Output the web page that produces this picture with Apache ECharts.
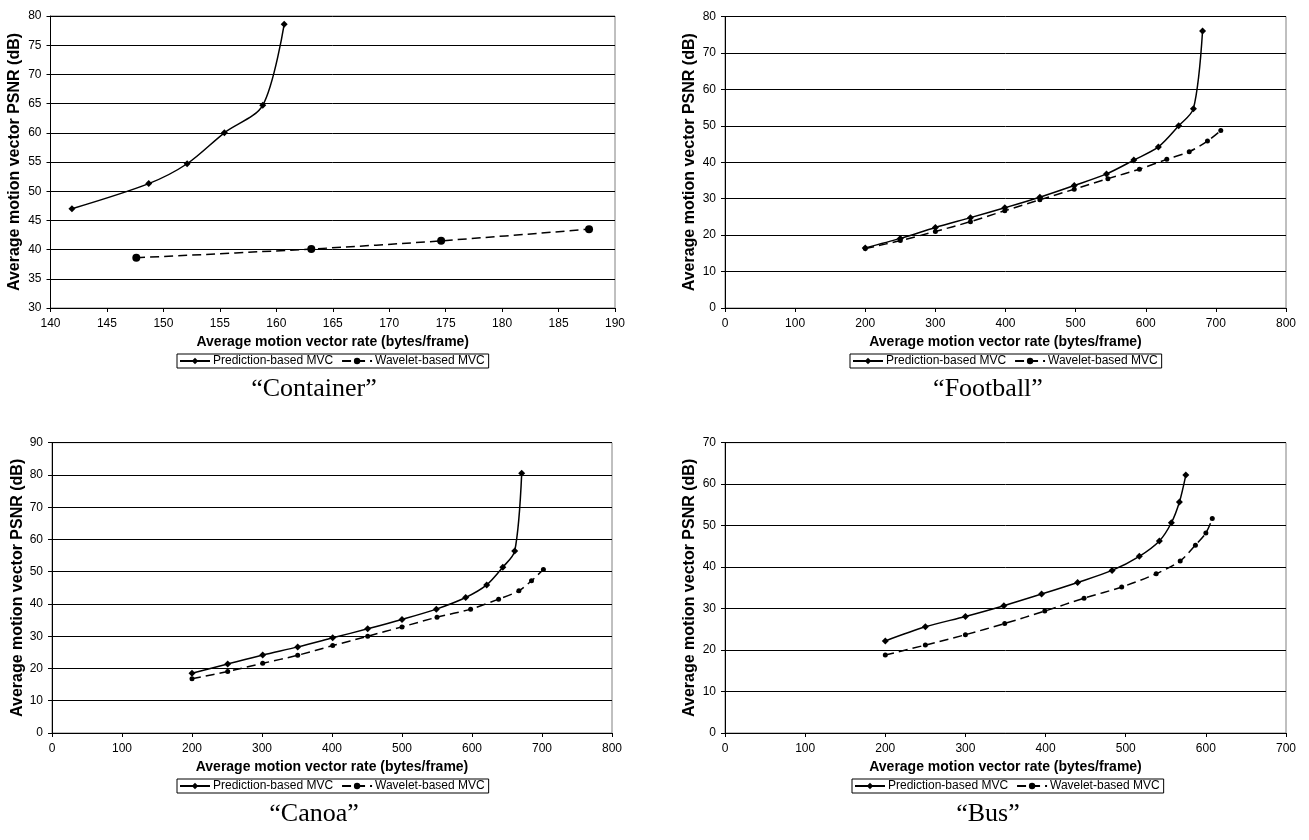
<!DOCTYPE html>
<html>
<head>
<meta charset="utf-8">
<script src="https://cdn.jsdelivr.net/npm/echarts@6/dist/echarts.min.js"></script>
<style>
html,body{margin:0;padding:0;background:#fff}
#main{width:1309px;height:840px}
</style>
</head>
<body>
<div id="main"></div>
<script>
// "Container"
var containerPredRate = [141.9, 148.7, 152.1, 155.4, 158.8, 160.7];
var containerPredPsnr = [47.0, 51.3, 54.7, 60.0, 64.7, 78.6];
var containerWaveRate = [147.6, 163.1, 174.6, 187.7];
var containerWavePsnr = [38.6, 40.1, 41.5, 43.5];
// "Football"
var footballPredRate = [200, 250, 300, 350, 399, 449, 498, 544, 583, 618, 647, 668, 681];
var footballPredPsnr = [16.5, 19.1, 22.1, 24.8, 27.5, 30.4, 33.6, 36.8, 40.6, 44.2, 50.0, 54.7, 76.0];
var footballWaveRate = [200, 250, 300, 350, 399, 449, 498, 546, 591, 630, 662, 688, 707];
var footballWavePsnr = [16.3, 18.5, 21.0, 23.7, 26.7, 29.7, 32.6, 35.5, 38.1, 40.8, 42.9, 45.8, 48.7];
// "Canoa"
var canoaPredRate = [200, 251, 301, 351, 401, 451, 500, 549, 591, 621, 644, 661, 671];
var canoaPredPsnr = [18.5, 21.4, 24.2, 26.7, 29.5, 32.3, 35.2, 38.4, 42.0, 45.9, 51.4, 56.4, 80.5];
var canoaWaveRate = [200, 251, 301, 351, 401, 451, 500, 550, 598, 638, 667, 685, 702];
var canoaWavePsnr = [16.8, 19.1, 21.6, 24.1, 27.1, 30.0, 32.9, 35.9, 38.4, 41.5, 44.1, 47.2, 50.7];
// "Bus"
var busPredRate = [200, 250, 300, 348, 395, 440, 483, 517, 542, 557, 567, 575];
var busPredPsnr = [22.2, 25.6, 28.1, 30.7, 33.5, 36.3, 39.2, 42.6, 46.3, 50.7, 55.7, 62.2];
var busWaveRate = [200, 250, 300, 349, 399, 448, 495, 538, 568, 587, 600, 608];
var busWavePsnr = [18.8, 21.2, 23.7, 26.4, 29.4, 32.5, 35.2, 38.4, 41.5, 45.3, 48.2, 51.7];

var captions = ['\u201cContainer\u201d', '\u201cFootball\u201d', '\u201cCanoa\u201d', '\u201cBus\u201d'];
var xRanges = [[140, 190, 5], [0, 800, 100], [0, 800, 100], [0, 700, 100]];
var yRanges = [[30, 80, 5], [0, 80, 10], [0, 90, 10], [0, 70, 10]];

var PRED = 'Prediction-based MVC';
var WAVE = 'Wavelet-based MVC';
var sans = 'Liberation Sans';

function zip(xs, ys) {
    var out = [];
    for (var i = 0; i < xs.length; i++) out.push([xs[i], ys[i]]);
    return out;
}

var panels = [
    {grid: {left: 50.5, right: 694, top: 16, bottom: 532}, nameGap: 28, legendLeft: 177, legendTop: 354, capX: 314, capY: 389,
     pred: zip(containerPredRate, containerPredPsnr), wave: zip(containerWaveRate, containerWavePsnr), waveSize: 8},
    {grid: {left: 725, right: 23, top: 16.5, bottom: 532}, nameGap: 27, legendLeft: 850, legendTop: 354, capX: 988, capY: 389,
     pred: zip(footballPredRate, footballPredPsnr), wave: zip(footballWaveRate, footballWavePsnr), waveSize: 5},
    {grid: {left: 52, right: 697, top: 442.7, bottom: 107}, nameGap: 25, legendLeft: 177, legendTop: 779, capX: 314, capY: 814,
     pred: zip(canoaPredRate, canoaPredPsnr), wave: zip(canoaWaveRate, canoaWavePsnr), waveSize: 5},
    {grid: {left: 725, right: 23, top: 442.7, bottom: 107}, nameGap: 27, legendLeft: 852, legendTop: 779, capX: 988, capY: 814,
     pred: zip(busPredRate, busPredPsnr), wave: zip(busWaveRate, busWavePsnr), waveSize: 5}
];

var option = {
    backgroundColor: '#fff',
    animation: false,
    grid: [], xAxis: [], yAxis: [], series: [], legend: [], graphic: []
};

panels.forEach(function (p, i) {
    var g = p.grid;
    option.grid.push({
        left: g.left, right: g.right, top: g.top, bottom: g.bottom,
        show: true, borderColor: '#808080', borderWidth: 1,
        outerBoundsMode: 'none', containLabel: false
    });
    option.xAxis.push({
        type: 'value', gridIndex: i,
        min: xRanges[i][0], max: xRanges[i][1], interval: xRanges[i][2],
        name: 'Average motion vector rate (bytes/frame)',
        nameLocation: 'middle', nameGap: 27,
        nameTextStyle: {fontFamily: sans, fontWeight: 'bold', fontSize: 14, color: '#000'},
        axisLine: {show: true, onZero: false, lineStyle: {color: '#000', width: 1}},
        axisTick: {show: true, inside: false, length: 4, lineStyle: {color: '#000'}},
        axisLabel: {fontFamily: sans, fontSize: 12, color: '#000', margin: 10},
        splitLine: {show: false}
    });
    option.yAxis.push({
        type: 'value', gridIndex: i,
        min: yRanges[i][0], max: yRanges[i][1], interval: yRanges[i][2],
        name: 'Average motion vector PSNR (dB)',
        nameLocation: 'middle', nameGap: p.nameGap, nameRotate: 90,
        nameTextStyle: {fontFamily: sans, fontWeight: 'bold', fontSize: 16, color: '#000'},
        axisLine: {show: true, onZero: false, lineStyle: {color: '#000', width: 1}},
        axisTick: {show: true, inside: false, length: 4, lineStyle: {color: '#000'}},
        axisLabel: {fontFamily: sans, fontSize: 12, color: '#000', margin: 9},
        splitLine: {show: true, lineStyle: {color: '#000', width: 1}}
    });
    option.series.push({
        name: PRED, type: 'line', xAxisIndex: i, yAxisIndex: i,
        data: p.pred, smooth: 0.3,
        symbol: 'diamond', symbolSize: 7,
        itemStyle: {color: '#000'},
        lineStyle: {color: '#000', width: 1.5, type: 'solid'}
    });
    option.series.push({
        name: WAVE, type: 'line', xAxisIndex: i, yAxisIndex: i,
        data: p.wave, smooth: 0.3,
        symbol: 'circle', symbolSize: p.waveSize,
        itemStyle: {color: '#000'},
        lineStyle: {color: '#000', width: 1.5, type: [9, 5]}
    });
    option.legend.push({
        left: p.legendLeft, top: p.legendTop,
        orient: 'horizontal',
        data: [PRED, WAVE],
        itemWidth: 30, itemHeight: 8, itemGap: 8,
        padding: [1, 4, 1, 2],
        borderColor: '#000', borderWidth: 1, borderRadius: 0,
        selectedMode: false,
        textStyle: {fontFamily: sans, fontSize: 12, color: '#000', padding: [0, 0, 0, -2]}
    });
    option.graphic.push({
        type: 'text', x: p.capX, y: p.capY,
        style: {
            text: captions[i], fill: '#000',
            font: '26px "Liberation Serif"',
            textAlign: 'center', textVerticalAlign: 'middle'
        }
    });
});

var chart = echarts.init(document.getElementById('main'), null, {renderer: 'canvas'});
chart.setOption(option);
window.addEventListener('resize', function () { chart.resize(); });
</script>
</body>
</html>
